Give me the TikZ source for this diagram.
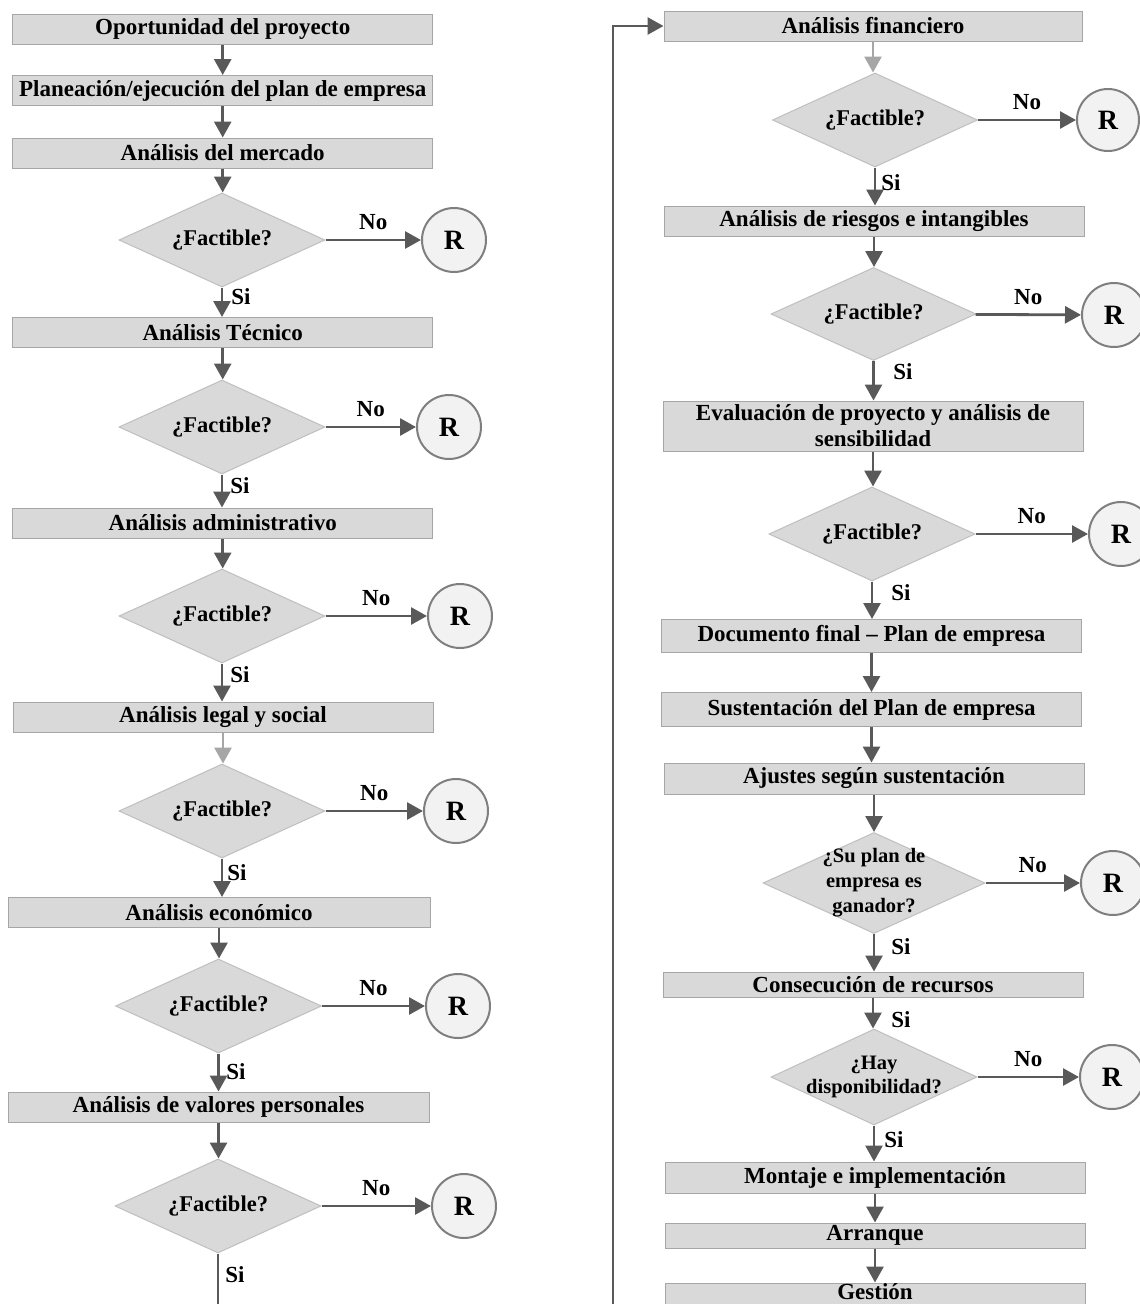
\documentclass[tikz,border=0pt]{standalone}
\usepackage{fontspec}
\setmainfont{Liberation Serif}
\usetikzlibrary{arrows.meta,shapes.geometric}
\definecolor{boxfill}{HTML}{D9D9D9}
\definecolor{boxline}{HTML}{A6A6A6}
\definecolor{dialine}{HTML}{BFBFBF}
\definecolor{arrowc}{HTML}{595959}
\definecolor{arrowl}{HTML}{A6A6A6}
\definecolor{rfill}{HTML}{F2F2F2}
\definecolor{rline}{HTML}{7F7F7F}
\begin{document}
\begin{tikzpicture}[x=1pt,y=-1pt,
  font=\fontsize{23}{27}\selectfont\bfseries,
  stepbox/.style={rectangle, fill=boxfill, draw=boxline, line width=1pt,
    minimum width=420pt, minimum height=30pt, inner sep=0pt, align=center},
  dia/.style={diamond, fill=boxfill, draw=dialine, line width=1pt,
    inner sep=0pt, minimum width=206pt, minimum height=94pt},
  dtxt/.style={font=\fontsize{22.5}{25}\selectfont\bfseries, align=center, inner sep=0pt},
  dtxts/.style={font=\fontsize{20.5}{24}\selectfont\bfseries, align=center, inner sep=0pt},
  rnode/.style={circle, fill=rfill, draw=rline, line width=2pt, minimum size=64pt,
    inner sep=0pt, font=\fontsize{28}{28}\selectfont\bfseries},
  arr/.style={draw=arrowc, line width=2.8pt, -{Triangle[length=16pt,width=17pt]}},
  arrlight/.style={arr, draw=arrowl},
  lab/.style={inner sep=0pt, font=\fontsize{23}{23}\selectfont\bfseries},
  nolab/.style={lab, midway, above=9pt}
]
\useasboundingbox (0,0) rectangle (1140,1304);
\fill[white] (0,0) rectangle (1140,1304);
\clip (0,0) rectangle (1140,1304);

% ---------- left column ----------
\node[stepbox] (b1) at (222.7,29) {Oportunidad del proyecto};
\node[stepbox] (b2) at (222.7,90.5) {Planeación/ejecución del plan de empresa};
\node[stepbox] (b3) at (222.7,153) {Análisis del mercado};
\node[dia] (d1) at (222,240) {};
\node[dtxt] (t1) at (d1) {¿Factible?};
\node[rnode] (r1) at (454,240) {R};
\node[stepbox] (b4) at (222.7,332.5) {Análisis Técnico};
\node[dia] (d2) at (222,427) {};
\node[dtxt] (t2) at (d2) {¿Factible?};
\node[rnode] (r2) at (449,427) {R};
\node[stepbox] (b5) at (222.7,523) {Análisis administrativo};
\node[dia] (d3) at (222,616) {};
\node[dtxt] (t3) at (d3) {¿Factible?};
\node[rnode] (r3) at (460,616) {R};
\node[stepbox] (b6) at (223,717) {Análisis legal y social};
\node[dia] (d4) at (222,811) {};
\node[dtxt] (t4) at (d4) {¿Factible?};
\node[rnode] (r4) at (456,811) {R};
\node[stepbox, minimum width=422pt] (b7) at (219,912.5) {Análisis económico};
\node[dia] (d5) at (218.5,1006) {};
\node[dtxt] (t5) at (d5) {¿Factible?};
\node[rnode] (r5) at (458,1006) {R};
\node[stepbox, minimum width=421pt] (b8) at (218.5,1107) {Análisis de valores personales};
\node[dia] (d6) at (218,1206) {};
\node[dtxt] (t6) at (d6) {¿Factible?};
\node[rnode] (r6) at (464,1206) {R};

% ---------- right column ----------
\node[stepbox, minimum width=418pt] (f1) at (873,26) {Análisis financiero};
\node[dia, minimum width=205pt] (e1) at (875,120) {};
\node[dtxt] (u1) at (e1) {¿Factible?};
\node[rnode, minimum size=62pt] (q1) at (1108,120) {R};
\node[stepbox] (f2) at (874,221) {Análisis de riesgos e intangibles};
\node[dia, minimum width=205pt, minimum height=93pt] (e2) at (873.5,314) {};
\node[dtxt] (u2) at (e2) {¿Factible?};
\node[rnode] (q2) at (1114,315) {R};
\node[stepbox, minimum height=50pt] (f3) at (873,426)
  {Evaluación de proyecto y análisis de\\[-1pt]sensibilidad};
\node[dia] (e3) at (872,534) {};
\node[dtxt] (u3) at (e3) {¿Factible?};
\node[rnode] (q3) at (1121,534) {R};
\node[stepbox, minimum height=33pt] (f4) at (871.5,636) {Documento final – Plan de empresa};
\node[stepbox, minimum height=34pt] (f5) at (871.5,709.5) {Sustentación del Plan de empresa};
\node[stepbox, minimum height=31pt] (f6) at (874,778.5) {Ajustes según sustentación};
\node[dia, minimum width=222pt, minimum height=101pt] (e4) at (874,883) {};
\node[dtxts, font=\fontsize{20.5}{25}\selectfont\bfseries] (u4) at (e4) {¿Su plan de\\empresa es\\ganador?};
\node[rnode] (q4) at (1113,883) {R};
\node[stepbox, minimum height=25pt] (f7) at (873,984.5) {Consecución de recursos};
\node[dia, minimum height=96pt] (e5) at (874,1077) {};
\node[dtxts] (u5) at (e5) {¿Hay\\disponibilidad?};
\node[rnode] (q5) at (1112,1077) {R};
\node[stepbox, minimum height=31pt] (f8) at (875,1177.5) {Montaje e implementación};
\node[stepbox, minimum height=25pt] (f9) at (875,1235.5) {Arranque};
\node[stepbox] (f10) at (875,1298) {};
\node[lab] (g10) at (875,1292) {Gestión};

% ---------- flow, left ----------
\draw[arr] (b1.south) -- (b1.south |- b2.north);
\draw[arr] (b2.south) -- (b2.south |- b3.north);
\draw[arr] (b3.south) -- (b3.south |- d1.north);
\draw[arr] (d1.south) -- (d1.south |- b4.north);
\draw[arr] (b4.south) -- (b4.south |- d2.north);
\draw[arr] (d2.south) -- (d2.south |- b5.north);
\draw[arr] (b5.south) -- (b5.south |- d3.north);
\draw[arr] (d3.south) -- (d3.south |- b6.north);
\draw[arrlight] (b6.south) -- (b6.south |- d4.north);
\draw[arr] (d4.south) -- (d4.south |- b7.north);
\draw[arr] (b7.south) -- (b7.south |- d5.north);
\draw[arr] (d5.south) -- (d5.south |- b8.north);
\draw[arr] (b8.south) -- (b8.south |- d6.north);

\draw[arr] (d1) -- (r1) node[nolab] (n1) {No};
\draw[arr] (d2) -- (r2) node[nolab] (n2) {No};
\draw[arr] (d3) -- (r3) node[nolab] (n3) {No};
\draw[arr] (d4) -- (r4) node[nolab] (n4) {No};
\draw[arr] (d5) -- (r5) node[nolab] (n5) {No};
\draw[arr] (d6) -- (r6) node[nolab] (n6) {No};

\node[lab] (s1) at (241,297) {Si};
\node[lab] (s2) at (240,486) {Si};
\node[lab] (s3) at (240,675) {Si};
\node[lab] (s4) at (237,873) {Si};
\node[lab] (s5) at (236,1072) {Si};
\node[lab] (s6) at (235,1275) {Si};

% ---------- flow, right ----------
\draw[arrlight] (f1.south) -- (f1.south |- e1.north);
\draw[arr] (e1.south) -- (e1.south |- f2.north);
\draw[arr] (f2.south) -- (f2.south |- e2.north);
\draw[arr] (e2.south) -- (e2.south |- f3.north);
\draw[arr] (f3.south) -- (f3.south |- e3.north);
\draw[arr] (e3.south) -- (e3.south |- f4.north);
\draw[arr] (f4.south) -- (f4.south |- f5.north);
\draw[arr] (f5.south) -- (f5.south |- f6.north);
\draw[arr] (f6.south) -- (f6.south |- e4.north);
\draw[arr] (e4.south) -- (e4.south |- f7.north);
\draw[arr] (f7.south) -- (f7.south |- e5.north);
\draw[arr] (e5.south) -- (e5.south |- f8.north);
\draw[arr] (f8.south) -- (f8.south |- f9.north);
\draw[arr] (f9.south) -- (f9.south |- f10.north);

\draw[arr] (e1) -- (q1) node[nolab] (m1) {No};
\draw[arr] (e2) -- (q2) node[nolab] (m2) {No};
\draw[arr] (e3) -- (q3) node[nolab] (m3) {No};
\draw[arr] (e4) -- (q4) node[nolab] (m4) {No};
\draw[arr] (e5) -- (q5) node[nolab] (m5) {No};

\node[lab] (v1) at (891,183) {Si};
\node[lab] (v2) at (903,372) {Si};
\node[lab] (v3) at (901,593) {Si};
\node[lab] (v4) at (901,947) {Si};
\node[lab] (v5) at (901,1020) {Si};
\node[lab] (v6) at (894,1140) {Si};

% ---------- return line from the last check to the financial analysis ----------
\coordinate (lb) at (218,1340);
\coordinate (rt) at (613,26);
\draw[arr] (d6.south) -- (lb) -| (rt) -- (f1.west);
\end{tikzpicture}
\end{document}
